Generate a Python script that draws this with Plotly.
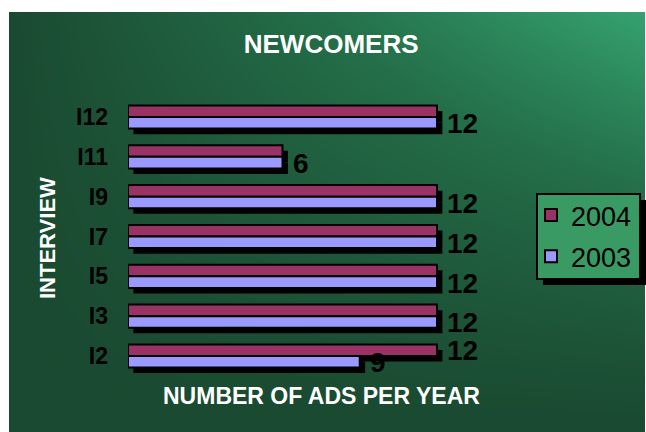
import numpy as np
import plotly.graph_objects as go

# ---- data ----
interviews = ["I2", "I3", "I5", "I7", "I9", "I11", "I12"]
ads_2004 = [12, 12, 12, 12, 12, 6, 12]
ads_2003 = [9, 12, 12, 12, 12, 6, 12]

# ---- styling ----
W, H = 646, 432
M_L, M_T, M_R, M_B = 9, 12, 1, 0
PAPER_W = W - M_L - M_R
PAPER_H = H - M_T - M_B

COL_2004 = "#993366"
COL_2003 = "#9999FF"
FONT = "Liberation Sans, Arial, sans-serif"

X_MAX = 13.0
px_zero, px_unit = 128, 25.75
x_dom = [(px_zero - M_L) / PAPER_W, (px_zero + X_MAX * px_unit - M_L) / PAPER_W]
y_top_px, y_bot_px = 97.1, 375.9
y_dom = [(H - M_B - y_bot_px) / PAPER_H, (H - M_B - y_top_px) / PAPER_H]
cat_px = (y_bot_px - y_top_px) / 7.0   # pixels per category

BAR_H = 0.29          # thickness of each bar in category units
SHADOW_DY = 0.14      # shadow shift down (category units)
SHADOW_DX = 0.21      # shadow shift right (value units)


def px_to_paper(x, y):
    return (x - M_L) / PAPER_W, (H - M_B - y) / PAPER_H


fig = go.Figure()

# green gradient backdrop: dark at the bottom/left, bright toward the top-right
gx = np.linspace(0, 1, 40)
gy = np.linspace(0, 1, 40)
GX, GY = np.meshgrid(gx, gy)
gz = GX * GY ** 1.3
fig.add_trace(go.Heatmap(
    x=gx, y=gy, z=gz, xaxis="x", yaxis="y",
    colorscale=[[0, "#1a4a31"], [0.5, "#24704a"], [1, "#35a26f"]],
    zsmooth="best", showscale=False, hoverinfo="skip",
))

# drop shadows behind each bar
for vals, off in ((ads_2004, 0.0), (ads_2003, -BAR_H)):
    fig.add_trace(go.Bar(
        y=interviews, x=vals, base=SHADOW_DX, orientation="h",
        offset=off - SHADOW_DY, width=BAR_H,
        marker=dict(color="black", line=dict(width=0)),
        xaxis="x2", yaxis="y2", showlegend=False, hoverinfo="skip",
    ))

fig.add_trace(go.Bar(
    name="2004", y=interviews, x=ads_2004, orientation="h",
    offset=0.0, width=BAR_H,
    marker=dict(color=COL_2004, line=dict(color="black", width=2)),
    xaxis="x2", yaxis="y2", legendgroup="a", legendrank=1,
))
fig.add_trace(go.Bar(
    name="2003", y=interviews, x=ads_2003, orientation="h",
    offset=-BAR_H, width=BAR_H,
    marker=dict(color=COL_2003, line=dict(color="black", width=2)),
    xaxis="x2", yaxis="y2", legendgroup="b", legendrank=2,
))

# value labels beside the bar ends; the 2004 label only where it differs from 2003
label_font = dict(family=FONT, size=28, color="black", weight="bold")
value_labels = []
for cat, v04, v03 in zip(interviews, ads_2004, ads_2003):
    value_labels.append(dict(
        x=v03, y=cat, xref="x2", yref="y2", text=str(v03),
        xanchor="left", yanchor="middle", xshift=8,
        yshift=-(BAR_H / 2) * cat_px - 1, showarrow=False, font=label_font))
    if v04 != v03:
        value_labels.append(dict(
            x=v04, y=cat, xref="x2", yref="y2", text=str(v04),
            xanchor="left", yanchor="middle", xshift=8,
            yshift=(BAR_H / 2) * cat_px, showarrow=False, font=label_font))

# legend frame and its shadow
leg_x0, leg_y0, leg_x1, leg_y1 = 537, 194, 640, 279
bx0, by1 = px_to_paper(leg_x0, leg_y0)
bx1, by0 = px_to_paper(leg_x1, leg_y1)
sx0, sy1 = px_to_paper(leg_x0 + 6, leg_y0 + 6)
sx1, sy0 = px_to_paper(leg_x1 + 6, leg_y1 + 6)
lx, ly = px_to_paper(531, 191)

fig.update_layout(
    width=W, height=H,
    margin=dict(l=M_L, r=M_R, t=M_T, b=M_B),
    paper_bgcolor="white", plot_bgcolor="rgba(0,0,0,0)",
    barmode="overlay",
    font=dict(family=FONT, color="black"),
    xaxis=dict(domain=[0, 1], range=[0, 1], visible=False, fixedrange=True),
    yaxis=dict(domain=[0, 1], range=[0, 1], visible=False, fixedrange=True),
    xaxis2=dict(domain=x_dom, range=[0, X_MAX], anchor="y2",
                showgrid=False, zeroline=False, showticklabels=False,
                showline=False, ticks=""),
    yaxis2=dict(domain=y_dom, range=[-0.5, 6.5], anchor="x2",
                type="category", categoryorder="array", categoryarray=interviews,
                showgrid=False, zeroline=False, showline=False, ticks="",
                ticklabelstandoff=19,
                tickfont=dict(family=FONT, size=23, color="black", weight="bold")),
    title=dict(text="<b>NEWCOMERS</b>", x=(335 - M_L) / PAPER_W, xanchor="center",
               y=1 - 44 / H, yanchor="middle",
               font=dict(family=FONT, size=26, color="white")),
    legend=dict(
        x=lx, y=ly, xanchor="left", yanchor="top",
        bgcolor="rgba(0,0,0,0)", borderwidth=0,
        font=dict(family=FONT, size=27, color="black"),
        traceorder="grouped", tracegroupgap=3,
        itemwidth=30,
    ),
    shapes=[
        dict(type="rect", xref="paper", yref="paper",
             x0=sx0, x1=sx1, y0=sy0, y1=sy1,
             fillcolor="black", line=dict(width=0), layer="above"),
        dict(type="rect", xref="paper", yref="paper",
             x0=bx0, x1=bx1, y0=by0, y1=by1,
             fillcolor="#3a9a64", line=dict(color="black", width=2), layer="above"),
    ],
    annotations=value_labels + [
        dict(text="<b>NUMBER OF ADS PER YEAR</b>", xref="paper", yref="paper",
             x=(321 - M_L) / PAPER_W, y=(H - M_B - 396) / PAPER_H,
             xanchor="center", yanchor="middle", showarrow=False,
             font=dict(family=FONT, size=23, color="white")),
        dict(text="<b>INTERVIEW</b>", xref="paper", yref="paper",
             x=(47 - M_L) / PAPER_W, y=(H - M_B - 238) / PAPER_H,
             xanchor="center", yanchor="middle", showarrow=False, textangle=-90,
             font=dict(family=FONT, size=22, color="white")),
    ],
    showlegend=True,
)

fig.write_html("out.html")
